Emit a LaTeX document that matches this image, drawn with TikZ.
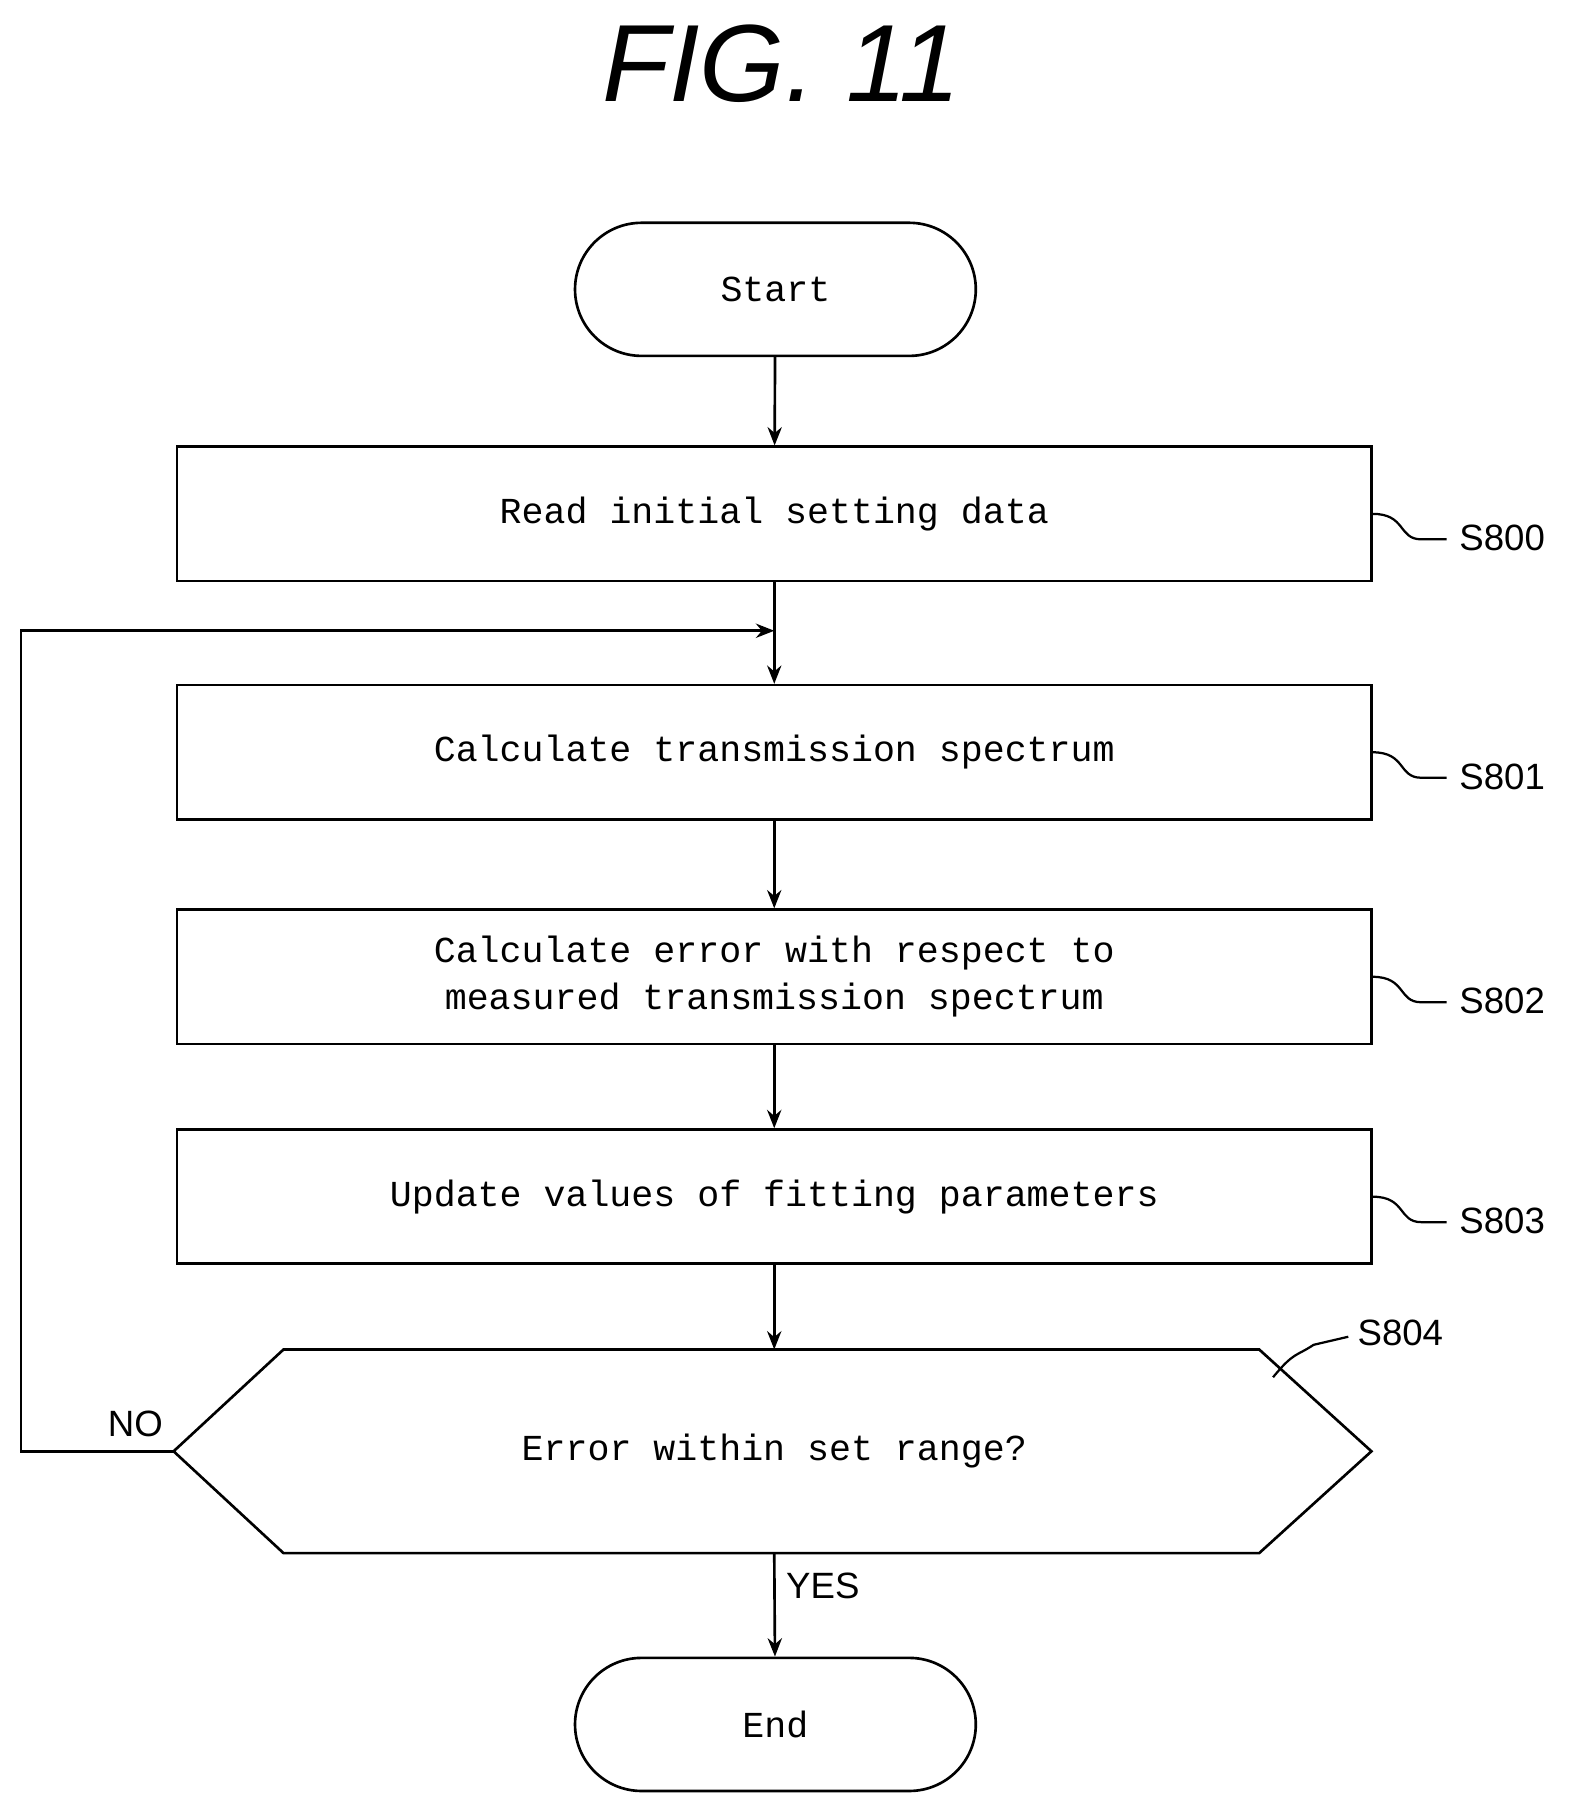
\documentclass[tikz,border=0pt]{standalone}
\usepackage{fontspec}
\setmonofont{Liberation Mono}
\setsansfont{Liberation Sans}
\usetikzlibrary{arrows.meta,shapes.misc}

\tikzset{
  box/.style={draw,line width=1.3pt,minimum width=1032*0.02cm,minimum height=116*0.02cm,font=\fontsize{18}{23}\selectfont\ttfamily,align=center},
  term/.style={draw,line width=1.3pt,rounded rectangle,minimum width=358*0.02cm,minimum height=115*0.02cm,font=\fontsize{18}{23}\selectfont\ttfamily},
  flow/.style={-{Stealth[length=9pt,width=7pt]},line width=1.3pt},
  lbl/.style={font=\fontsize{18}{23}\selectfont\sffamily},
  squig/.style={line width=1.1pt}
}

\begin{document}
\begin{tikzpicture}[x=0.02cm,y=-0.02cm]
\useasboundingbox (0,0) rectangle (1357,1570);

\node (title) at (675,55) {\fontsize{54}{56}\selectfont\sffamily\itshape FIG. 11};

\node (start) at (670,250)[term] {Start};
\node (s800) at (669,444)[box] {Read initial setting data};
\node (s801) at (669,650)[box] {Calculate transmission spectrum};
\node (s802) at (669,844)[box] {Calculate error with respect to\\measured transmission spectrum};
\node (s803) at (669,1034)[box] {Update values of fitting parameters};
\node (end) at (670,1490)[term] {End};

% decision hexagon
\coordinate (decT) at (669,1166);
\coordinate (decB) at (669,1342);
\coordinate (decW) at (150,1254);
\draw[line width=1.3pt] (decW) -- (245,1166) -- (1088,1166) -- (1185,1254) -- (1088,1342) -- (245,1342) -- cycle;
\node (dec) at (669,1254)[font=\fontsize{18}{23}\selectfont\ttfamily] {Error within set range?};

\coordinate (loopA) at (18,1254);
\coordinate (loopB) at (18,545);
\coordinate (loopC) at (669,545);

\draw [flow] (start) -- (s800);
\draw [flow] (s800) -- (s801);
\draw [flow] (s801) -- (s802);
\draw [flow] (s802) -- (s803);
\draw [flow] (s803) -- (decT);
\draw [flow] (decB) -- (end);
\draw [flow] (decW) -- (loopA) -- (loopB) -- (loopC);

\node (no) at (117,1230)[lbl] {NO};
\node (yes) at (711,1370)[lbl] {YES};

% step labels
\foreach \nm/\yy in {800/444,801/650,802/844,803/1034}{
  \draw [squig] (1186,\yy) .. controls (1215,\yy) and (1208,\yy+22) .. (1228,\yy+22) -- (1250,\yy+22);
  \node (lab\nm) at (1298,\yy+21)[lbl] {S\nm};
}
\draw [squig] (1100,1190) .. controls (1118,1168) and (1120,1172) .. (1135,1162) -- (1165,1155);
\node (lab804) at (1210,1152)[lbl] {S804};
\end{tikzpicture}
\end{document}
